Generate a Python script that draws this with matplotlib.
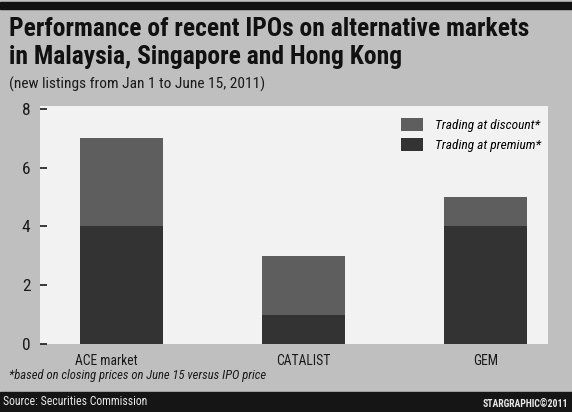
import matplotlib.pyplot as plt
from matplotlib.patches import Rectangle

# Data: number of new listings (Jan 1 - June 15, 2011)
markets = ['ACE market', 'CATALIST', 'GEM']
premium = [4, 1, 4]
discount = [3, 2, 1]
yticks = [0, 2, 4, 6, 8]

BG = '#bfbfbf'
PANEL = '#f2f2f2'
C_DISC = '#5e5e5e'
C_PREM = '#333333'
FONT = ['Liberation Sans Narrow', 'DejaVu Sans Condensed', 'Noto Sans Condensed',
        'Roboto Condensed', 'Open Sans Condensed', 'Liberation Sans', 'DejaVu Sans']

plt.rcParams['font.family'] = FONT

W, H = 572, 412
fig = plt.figure(figsize=(W / 100, H / 100), dpi=100, facecolor=BG)


def fx(px):
    return px / W


def fy(py):
    return 1 - py / H


# top black rule and bottom source band
fig.patches.append(Rectangle((0, fy(9)), 1, 7 / H, transform=fig.transFigure,
                             color='#111111', zorder=0))
fig.patches.append(Rectangle((0, 0), 1, fy(392), transform=fig.transFigure,
                             color='#151515', zorder=0))

ax = fig.add_axes([fx(40), fy(344), fx(548) - fx(40), fy(106) - fy(344)])
ax.set_facecolor(PANEL)

x = list(range(len(markets)))
ax.bar(x, premium, width=0.455, color=C_PREM, label='Trading at premium*', zorder=2)
ax.bar(x, discount, bottom=premium, width=0.455, color=C_DISC,
       label='Trading at discount*', zorder=2)

ax.set_xlim(-0.444, 2.34)
ax.set_ylim(0, 8.1)
ax.set_yticks(yticks)
ax.set_yticklabels([str(v) for v in yticks], fontsize=12.5, color='#1a1a1a')
ax.tick_params(axis='y', direction='in', length=5, width=1.2, color='#1a1a1a', pad=7)
ax.tick_params(axis='x', length=0)
ax.set_xticks([])
for s in ax.spines.values():
    s.set_visible(False)

# category labels sit on the grey strip below the panel
# (the ACE label is set a little left of its bar, as in the original)
label_shift = [-0.08, 0, 0]
for xi, name, dx in zip(x, markets, label_shift):
    ax.text(xi + dx, -0.33, name, ha='center', va='top', fontsize=9.8,
            color='#1a1a1a', clip_on=False)

handles, labels = ax.get_legend_handles_labels()
leg = ax.legend(handles[::-1], labels[::-1], loc='upper right',
                bbox_to_anchor=(1.0, 0.98), frameon=False, borderaxespad=0.15,
                prop={'style': 'italic', 'size': 9.6, 'family': FONT},
                handlelength=1.6, handleheight=1.1, handletextpad=0.9,
                labelspacing=0.45)

# titles
fig.text(fx(9), fy(36), 'Performance of recent IPOs on alternative markets',
         fontsize=18.4, fontweight='bold', color='#111111', va='baseline')
fig.text(fx(9), fy(64), 'in Malaysia, Singapore and Hong Kong',
         fontsize=18.4, fontweight='bold', color='#111111', va='baseline')
fig.text(fx(9), fy(89), '(new listings from Jan 1 to June 15, 2011)',
         fontsize=11.1, color='#1a1a1a', va='baseline')

# footnote and source
fig.text(fx(9), fy(379), '*based on closing prices on June 15 versus IPO price',
         fontsize=9.1, style='italic', color='#1a1a1a', va='baseline')
fig.text(fx(3), fy(405), 'Source: Securities Commission',
         fontsize=8.5, color='#e8e8e8', va='baseline')
fig.text(fx(568), fy(407), 'STARGRAPHIC\u00a92011', ha='right',
         fontsize=7, fontweight='bold', color='#e8e8e8', va='baseline')

fig.savefig('out.png', dpi=100, facecolor=BG)
